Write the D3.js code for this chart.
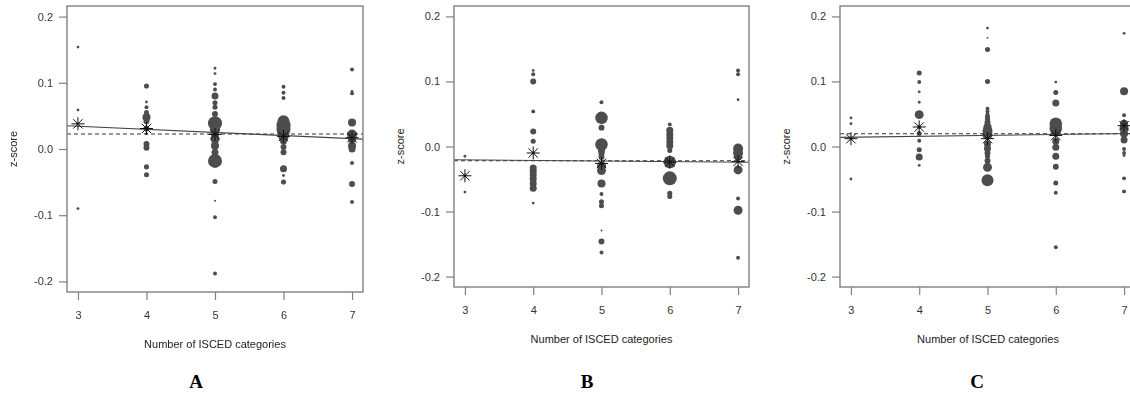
<!DOCTYPE html>
<html>
<head>
<meta charset="utf-8">
<script src="https://cdn.jsdelivr.net/npm/d3@7"></script>
<style>
  html, body { margin: 0; padding: 0; background: #fff; }
  svg { display: block; }
</style>
</head>
<body>
<script>
// ---- data -------------------------------------------------------------
const categories = [3, 4, 5, 6, 7];
const yTicks = [-0.2, -0.1, 0.0, 0.1, 0.2];
const yTickLabels = ["-0.2", "-0.1", "0.0", "0.1", "0.2"];
const panelLabels = ["A", "B", "C"];
const xTitle = "Number of ISCED categories";
const yTitle = "z-score";

// each point: [ISCED categories, z-score, weight]
const pointsA = [
  [3, 0.154, 4], [3, 0.059, 4], [3, 0.038, 4], [3, -0.090, 4],
  [4, 0.095, 13], [4, 0.071, 4], [4, 0.063, 8], [4, 0.055, 13], [4, 0.048, 33], [4, 0.042, 18],
  [4, 0.031, 18], [4, 0.023, 4], [4, 0.0075, 18], [4, 0.002, 18], [4, -0.027, 13], [4, -0.039, 13],
  [5, 0.122, 4], [5, 0.114, 4], [5, 0.098, 8], [5, 0.090, 8], [5, 0.080, 25], [5, 0.070, 13],
  [5, 0.063, 13], [5, 0.053, 18], [5, 0.039, 100], [5, 0.030, 51], [5, 0.022, 33], [5, 0.015, 41],
  [5, 0.005, 33], [5, -0.005, 25], [5, -0.018, 100], [5, -0.049, 13], [5, -0.078, 2],
  [5, -0.103, 8], [5, -0.188, 8],
  [6, 0.094, 8], [6, 0.085, 8], [6, 0.077, 8], [6, 0.042, 73], [6, 0.036, 100], [6, 0.030, 100],
  [6, 0.024, 73], [6, 0.018, 51], [6, 0.012, 25], [6, 0.003, 18], [6, -0.005, 18],
  [6, -0.030, 25], [6, -0.040, 4], [6, -0.050, 13],
  [7, 0.120, 8], [7, 0.087, 4], [7, 0.084, 8], [7, 0.040, 33], [7, 0.022, 51], [7, 0.015, 33],
  [7, 0.005, 33], [7, 0.000, 25], [7, -0.021, 8], [7, -0.053, 18], [7, -0.080, 8]
];
const pointsB = [
  [3, -0.015, 4], [3, -0.045, 4], [3, -0.070, 4],
  [4, 0.117, 4], [4, 0.111, 8], [4, 0.100, 18], [4, 0.054, 8], [4, 0.023, 18], [4, 0.008, 13],
  [4, -0.010, 4], [4, -0.033, 25], [4, -0.038, 25], [4, -0.044, 25], [4, -0.050, 25],
  [4, -0.057, 25], [4, -0.064, 25], [4, -0.087, 4],
  [5, 0.068, 8], [5, 0.044, 80], [5, 0.029, 18], [5, 0.003, 80], [5, -0.006, 25], [5, -0.011, 18],
  [5, -0.016, 18], [5, -0.030, 41], [5, -0.037, 41], [5, -0.057, 33], [5, -0.073, 8],
  [5, -0.085, 13], [5, -0.091, 13], [5, -0.129, 2], [5, -0.146, 18], [5, -0.163, 8],
  [6, 0.034, 8], [6, 0.025, 25], [6, 0.019, 25], [6, 0.013, 25], [6, 0.007, 25], [6, 0.001, 25],
  [6, -0.006, 13], [6, -0.024, 80], [6, -0.049, 100], [6, -0.072, 13], [6, -0.077, 13],
  [7, 0.117, 8], [7, 0.111, 8], [7, 0.072, 4], [7, -0.003, 51], [7, -0.010, 51], [7, -0.015, 33],
  [7, -0.036, 41], [7, -0.080, 8], [7, -0.098, 41], [7, -0.171, 8]
];
const pointsC = [
  [3, 0.044, 4], [3, 0.035, 4], [3, 0.012, 4], [3, -0.050, 4],
  [4, 0.113, 13], [4, 0.099, 8], [4, 0.084, 4], [4, 0.068, 4], [4, 0.049, 41], [4, 0.030, 8],
  [4, 0.020, 13], [4, 0.009, 8], [4, -0.005, 13], [4, -0.016, 25], [4, -0.029, 4],
  [5, 0.182, 4], [5, 0.167, 2], [5, 0.149, 13], [5, 0.100, 13], [5, 0.058, 8], [5, 0.054, 8],
  [5, 0.050, 8], [5, 0.046, 13], [5, 0.042, 13], [5, 0.037, 18], [5, 0.030, 33], [5, 0.024, 51],
  [5, 0.018, 51], [5, 0.004, 25], [5, -0.003, 25], [5, -0.010, 18], [5, -0.015, 13],
  [5, -0.022, 18], [5, -0.032, 41], [5, -0.052, 73],
  [6, 0.099, 4], [6, 0.083, 13], [6, 0.067, 25], [6, 0.035, 80], [6, 0.028, 80], [6, 0.022, 41],
  [6, 0.008, 25], [6, -0.001, 25], [6, -0.015, 25], [6, -0.031, 18], [6, -0.056, 13],
  [6, -0.071, 8], [6, -0.155, 8],
  [7, 0.174, 4], [7, 0.085, 33], [7, 0.048, 8], [7, 0.035, 33], [7, 0.028, 41], [7, 0.020, 33],
  [7, 0.010, 25], [7, -0.004, 8], [7, -0.010, 8], [7, -0.014, 4], [7, -0.049, 8], [7, -0.069, 8]
];

// group means (asterisks)
const meansA = [0.038, 0.031, 0.022, 0.019, 0.017];
const meansB = [-0.045, -0.010, -0.026, -0.024, -0.023];
const meansC = [0.012, 0.030, 0.012, 0.017, 0.032];

// fitted line, value at 3 and at 7 categories
const fitA = [0.0343, 0.0157];
const fitB = [-0.0205, -0.0240];
const fitC = [0.0142, 0.0198];

// overall mean (dashed reference line)
const refA = [0.0226];
const refB = [-0.0220];
const refC = [0.0195];

// ---- drawing ----------------------------------------------------------
const W = 1130, H = 404;
const svg = d3.select("body").append("svg").attr("width", W).attr("height", H);

const defs = svg.append("defs");
defs.append("filter").attr("id", "soft")
  .attr("x", "-5%").attr("y", "-5%").attr("width", "110%").attr("height", "110%")
  .append("feGaussianBlur").attr("stdDeviation", 0.55);

const frameColor = "#808080";
const pointColor = "#4d4d4d";
const textColor = "#333";
const font = "'Liberation Sans', Arial, sans-serif";

const rScale = d3.scaleSqrt().domain([0, 100]).range([0, 7]);

const panels = [
  { points: pointsA, means: meansA, fit: fitA, ref: refA, left: 67, right: 363, top: 6, bottom: 292, letterX: 196, soft: true },
  { points: pointsB, means: meansB, fit: fitB, ref: refB, left: 454, right: 749, top: 6, bottom: 287, letterX: 587, soft: false },
  { points: pointsC, means: meansC, fit: fitC, ref: refC, left: 840, right: 1135, top: 6, bottom: 287, letterX: 977, soft: false }
];

panels.forEach((p, i) => {
  // padded domains around 3..7 and -0.2..0.2
  const x = d3.scaleLinear().domain([2.84, 7.16]).range([p.left, p.right]);
  const y = d3.scaleLinear().domain([-0.216, 0.216]).range([p.bottom, p.top]);

  const g = svg.append("g");
  if (p.soft) g.attr("filter", "url(#soft)");

  const clipId = "clip" + i;
  defs.append("clipPath").attr("id", clipId)
    .append("rect").attr("x", p.left).attr("y", p.top)
    .attr("width", p.right - p.left).attr("height", p.bottom - p.top);

  const plot = g.append("g").attr("clip-path", `url(#${clipId})`);

  // points
  plot.selectAll("circle").data(p.points).join("circle")
    .attr("cx", d => x(d[0]))
    .attr("cy", d => y(d[1]))
    .attr("r", d => rScale(d[2]))
    .attr("fill", pointColor);

  // overall mean, dashed
  plot.append("line")
    .attr("x1", x(2.84)).attr("x2", x(7.16))
    .attr("y1", y(p.ref[0])).attr("y2", y(p.ref[0]))
    .attr("stroke", "#333").attr("stroke-width", 1.1)
    .attr("stroke-dasharray", "4,3");

  // fitted line, solid, extended across the plot
  const slope = (p.fit[1] - p.fit[0]) / 4;
  const fitAt = v => p.fit[0] + slope * (v - 3);
  plot.append("line")
    .attr("x1", x(2.84)).attr("x2", x(7.16))
    .attr("y1", y(fitAt(2.84))).attr("y2", y(fitAt(7.16)))
    .attr("stroke", "#444").attr("stroke-width", 1.1);

  // group means as asterisks
  const star = (cx, cy, s) => {
    const d = s * 0.72;
    return `M${cx - s},${cy}H${cx + s}M${cx},${cy - s}V${cy + s}` +
      `M${cx - d},${cy - d}L${cx + d},${cy + d}M${cx - d},${cy + d}L${cx + d},${cy - d}`;
  };
  plot.selectAll("path.mean").data(p.means).join("path")
    .attr("class", "mean")
    .attr("d", (m, k) => star(x(categories[k]), y(m), 6.5))
    .attr("stroke", "#111").attr("stroke-width", 1).attr("fill", "none");

  // frame
  g.append("rect")
    .attr("x", p.left).attr("y", p.top)
    .attr("width", p.right - p.left).attr("height", p.bottom - p.top)
    .attr("fill", "none").attr("stroke", frameColor).attr("stroke-width", 1.4);

  // y axis
  const yAxis = d3.axisLeft(y).tickValues(yTicks).tickSize(8).tickPadding(6)
    .tickFormat((d, k) => yTickLabels[k]);
  const ya = g.append("g").attr("transform", `translate(${p.left},0)`).call(yAxis);
  ya.select(".domain").remove();
  ya.selectAll(".tick line").attr("stroke", frameColor).attr("stroke-width", 1.2);
  ya.selectAll(".tick text").attr("fill", textColor)
    .style("font-family", font).style("font-size", "11px");

  // x axis
  const xAxis = d3.axisBottom(x).tickValues(categories).tickSize(8).tickPadding(11)
    .tickFormat(d3.format("d"));
  const xa = g.append("g").attr("transform", `translate(0,${p.bottom})`).call(xAxis);
  xa.select(".domain").remove();
  xa.selectAll(".tick line").attr("stroke", frameColor).attr("stroke-width", 1.2);
  xa.selectAll(".tick text").attr("fill", textColor)
    .style("font-family", font).style("font-size", "11px");

  // axis titles
  g.append("text")
    .attr("x", (p.left + Math.min(p.right, W)) / 2 + (i === 2 ? 3 : 0))
    .attr("y", p.bottom + 56)
    .attr("text-anchor", "middle")
    .attr("fill", "#222")
    .style("font-family", font).style("font-size", "11px")
    .text(xTitle);

  g.append("text")
    .attr("transform", `translate(${p.left - 50},${(p.top + p.bottom) / 2}) rotate(-90)`)
    .attr("text-anchor", "middle")
    .attr("fill", "#222")
    .style("font-family", font).style("font-size", "11px")
    .text(yTitle);

  // panel letter
  svg.append("text")
    .attr("x", p.letterX).attr("y", 388)
    .attr("text-anchor", "middle")
    .attr("fill", "#000")
    .style("font-family", "'Liberation Serif', 'Times New Roman', serif")
    .style("font-size", "19px").style("font-weight", "bold")
    .text(panelLabels[i]);
});
</script>
</body>
</html>
